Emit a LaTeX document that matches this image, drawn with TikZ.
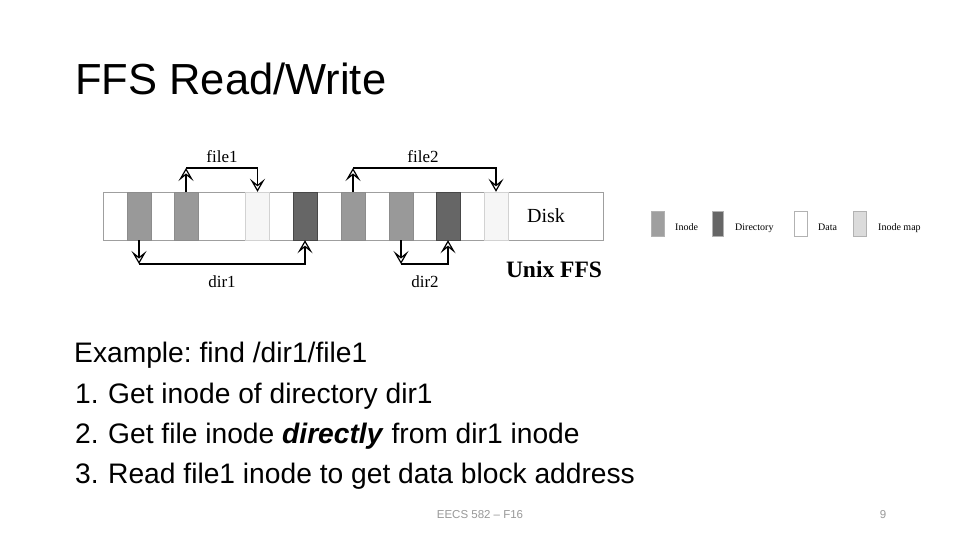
\documentclass[tikz,border=0pt]{standalone}
\usepackage{fontspec}
\setmainfont{Liberation Sans}
\newfontfamily\diagfont{Liberation Serif}
\usetikzlibrary{positioning, arrows.meta, calc}
\frenchspacing

\begin{document}
\begin{tikzpicture}[
  x=1pt, y=-1pt,
  block/.style={draw=gray!90, minimum width=24pt, minimum height=48pt, inner sep=0},
  inodeblk/.style={block, fill=gray!80},
  dirblk/.style={block, fill=black!60, draw=black!72},
  datablk/.style={block, fill=gray!7, draw=gray!35},
  ptr/.style={-{Stealth[open, length=13pt, width=15pt, inset=6pt]}, line width=1.2pt},
  lbl/.style={font=\diagfont\fontsize{17}{17}\selectfont, inner sep=0},
  swatch/.style={draw=gray!60, minimum width=13pt, minimum height=25pt, inner sep=0},
  legtxt/.style={font=\diagfont\fontsize{10}{10}\selectfont, anchor=base west, inner sep=0},
  body/.style={anchor=base west, font=\fontsize{28.2}{34}\selectfont, inner sep=0},
  foot/.style={font=\fontsize{11.5}{11.5}\selectfont, text=gray!80, inner sep=0},
]
  \useasboundingbox[fill=white] (0,0) rectangle (960,540);

  % --- title ---
  \node[anchor=base west, font=\fontsize{43.5}{52}\selectfont, inner sep=0] (title) at (75,95) {FFS Read/Write};

  % --- disk strip with blocks ---
  \node[draw=gray!75, minimum width=500pt, minimum height=48pt, inner sep=0] (disk) at (353,216) {};
  \node[inodeblk] (b1) at (139,216) {};
  \node[inodeblk] (b2) at (186,216) {};
  \node[datablk]  (b3) at (257.5,216) {};
  \node[dirblk]   (b4) at (305,216) {};
  \node[inodeblk] (b5) at (353,216) {};
  \node[inodeblk] (b6) at (401,216) {};
  \node[dirblk]   (b7) at (448,216) {};
  \node[datablk]  (b8) at (496,216) {};
  \node[font=\diagfont\fontsize{20}{20}\selectfont] (disklbl) at (546,216) {Disk};
  \node[font=\diagfont\bfseries\fontsize{23.5}{23.5}\selectfont] (ffs) at (554,269) {Unix FFS};

  % --- pointers: file1, file2 above, dir1, dir2 below ---
  \coordinate (f1) at (b2.north |- 0,168);
  \coordinate (f2) at (b5.north |- 0,168);
  \coordinate (d1) at (b1.south |- 0,264);
  \coordinate (d2) at (b6.south |- 0,264);
  \draw[ptr] (b2.north) -- (f1);
  \draw[ptr] (f1) -| (b3.north);
  \draw[ptr] (b5.north) -- (f2);
  \draw[ptr] (f2) -| (b8.north);
  \draw[ptr] (b1.south) -- (d1);
  \draw[ptr] (d1) -| (b4.south);
  \draw[ptr] (b6.south) -- (d2);
  \draw[ptr] (d2) -| (b7.south);
  \node[lbl] (file1) at (222,157) {file1};
  \node[lbl] (file2) at (423,157) {file2};
  \node[lbl] (dir1)  at (222,282) {dir1};
  \node[lbl] (dir2)  at (425,282) {dir2};

  % --- legend ---
  \node[swatch, fill=gray!75] (kinode) at (657.5,223.5) {};
  \node[legtxt] (kinodet) at (675,230.5) {Inode};
  \node[swatch, minimum width=11pt, fill=black!60] (kdir) at (717.5,223.5) {};
  \node[legtxt] (kdirt) at (735,230.5) {Directory};
  \node[swatch, fill=white] (kdata) at (800.5,223.5) {};
  \node[legtxt] (kdatat) at (818,230.5) {Data};
  \node[swatch, fill=gray!28] (kmap) at (860,223.5) {};
  \node[legtxt] (kmapt) at (878,230.5) {Inode map};

  % --- example text ---
  \node[body] (ex) at (74,362) {Example: find /dir1/file1};
  \node[body] (n1) at (75,403) {1.};
  \node[body] (s1) at (108,403) {Get inode of directory dir1};
  \node[body] (n2) at (75,443) {2.};
  \node[body] (s2) at (108,443) {Get file inode \textbf{\textit{directly}} from dir1 inode};
  \node[body] (n3) at (75,483) {3.};
  \node[body] (s3) at (108,483) {Read file1 inode to get data block address};

  % --- footer ---
  \node[foot] (course) at (480,515) {EECS 582 -- F16};
  \node[foot] (page) at (883,515) {9};
\end{tikzpicture}
\end{document}
